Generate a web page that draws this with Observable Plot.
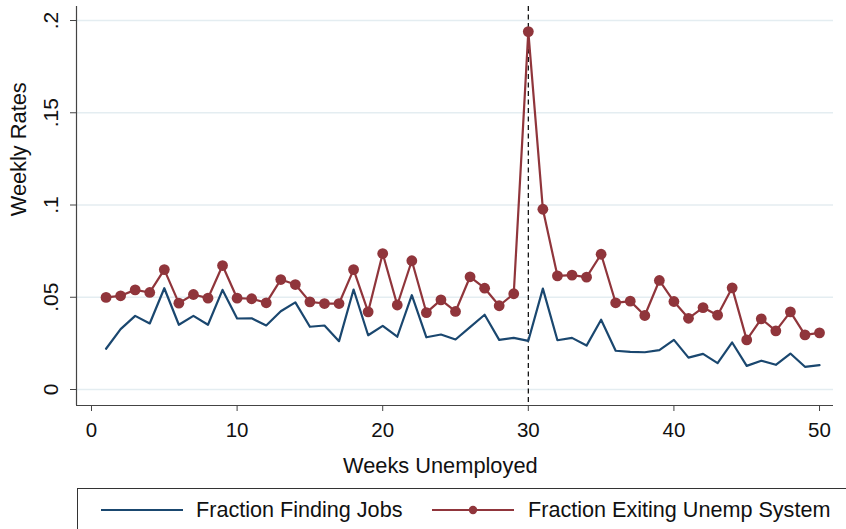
<!DOCTYPE html>
<html>
<head>
<meta charset="utf-8">
<script src="https://cdn.jsdelivr.net/npm/d3@7"></script>
<script src="https://cdn.jsdelivr.net/npm/@observablehq/plot@0.6"></script>
<style>
  html, body { margin: 0; padding: 0; background: #fff; overflow: hidden; }
  #wrap { position: relative; width: 846px; height: 529px; overflow: hidden; font-family: "Liberation Sans", Arial, sans-serif; }
  #legend { position: absolute; left: 77px; top: 488px; width: 800px; height: 60px; border: 1px solid #333; box-sizing: border-box; }
  .item { position: absolute; top: 0; height: 42px; display: flex; align-items: center; font-size: 21.6px; color: #111; }
</style>
</head>
<body>
<div id="wrap"><div id="chart"></div><div id="legend"></div></div>
<script>
const weeks = [1,2,3,4,5,6,7,8,9,10,11,12,13,14,15,16,17,18,19,20,21,22,23,24,25,26,27,28,29,30,31,32,33,34,35,36,37,38,39,40,41,42,43,44,45,46,47,48,49,50];
const findJobs = [0.0221,0.0327,0.0399,0.0358,0.0549,0.0351,0.0399,0.0351,0.0540,0.0385,
                  0.0386,0.0347,0.0424,0.0472,0.0340,0.0347,0.0262,0.0542,0.0294,0.0345,
                  0.0286,0.0511,0.0283,0.0298,0.0271,0.0338,0.0405,0.0269,0.0280,0.0264,
                  0.0547,0.0267,0.0280,0.0238,0.0378,0.0210,0.0204,0.0202,0.0213,0.0269,
                  0.0173,0.0193,0.0143,0.0255,0.0128,0.0156,0.0134,0.0195,0.0123,0.0132];
const exitSystem = [0.0499,0.0508,0.0540,0.0526,0.0650,0.0468,0.0515,0.0495,0.0672,0.0495,
                    0.0492,0.0470,0.0596,0.0569,0.0475,0.0466,0.0466,0.0650,0.0421,0.0737,
                    0.0458,0.0698,0.0417,0.0486,0.0423,0.0611,0.0549,0.0454,0.0519,0.1940,
                    0.0977,0.0616,0.0620,0.0609,0.0733,0.0470,0.0479,0.0401,0.0591,0.0477,
                    0.0386,0.0444,0.0403,0.0551,0.0269,0.0383,0.0318,0.0421,0.0296,0.0307];
const cutoffWeek = [30];
const xTicks = [0,10,20,30,40,50];
const yTicks = [0,0.05,0.1,0.15,0.2];
const yTickLabels = ["0",".05",".1",".15",".2"];
const seriesNames = ["Fraction Finding Jobs","Fraction Exiting Unemp System"];
const xTitle = "Weeks Unemployed";
const yTitle = "Weekly Rates";

const navy = "#1a476f", maroon = "#90353b";
const jobsData = weeks.map((w,i) => ({week: w, rate: findJobs[i]}));
const exitData = weeks.map((w,i) => ({week: w, rate: exitSystem[i]}));
const yTickData = yTicks.map((v,i) => ({v, label: yTickLabels[i]}));

const xMin = -1.03, xMax = 50.96, yMin = -0.00867, yMax = 0.2076;
const font = "'Liberation Sans', Arial, sans-serif";

const chart = Plot.plot({
  width: 846, height: 488,
  marginLeft: 76, marginRight: 13, marginTop: 6, marginBottom: 83,
  style: {fontFamily: font, background: "#fff", overflow: "visible"},
  x: {domain: [xMin, xMax], axis: null},
  y: {domain: [yMin, yMax], axis: null},
  marks: [
    Plot.ruleY(yTicks, {stroke: "#e4edf1", strokeWidth: 1.6}),
    Plot.ruleX([xMin], {stroke: "#444", strokeWidth: 1.2}),
    Plot.ruleY([yMin], {stroke: "#444", strokeWidth: 1.2}),
    Plot.axisY({ticks: yTicks, tickSize: 6, tickFormat: () => "", stroke: "#444", label: null}),
    Plot.axisX({ticks: xTicks, tickSize: 6, tickFormat: () => "", stroke: "#444", label: null}),
    Plot.text(yTickData, {x: xMin, y: "v", text: "label", rotate: -90, dx: -25, fontSize: 21, fill: "#111", textAnchor: "middle", lineAnchor: "middle"}),
    Plot.text(xTicks, {x: d => d, frameAnchor: "bottom", dy: 25, text: d => String(d), fontSize: 20.5, fill: "#111", lineAnchor: "middle"}),
    Plot.text([xTitle], {frameAnchor: "bottom", dy: 61, dx: -14.7, fontSize: 21.8, fill: "#111", lineAnchor: "middle"}),
    Plot.text([yTitle], {frameAnchor: "left", dx: -57.5, dy: 10.3, rotate: -90, fontSize: 21.8, fill: "#111", lineAnchor: "middle"}),
    Plot.ruleX(cutoffWeek, {stroke: "#000", strokeWidth: 1.2, strokeDasharray: "5,3.5"}),
    Plot.line(jobsData, {x: "week", y: "rate", stroke: navy, strokeWidth: 2.2}),
    Plot.line(exitData, {x: "week", y: "rate", stroke: maroon, strokeWidth: 2.2}),
    Plot.dot(exitData, {x: "week", y: "rate", fill: maroon, r: 5.4})
  ]
});
document.getElementById("chart").appendChild(chart);

// legend
const legend = document.getElementById("legend");
const ns = "http://www.w3.org/2000/svg";
function swatch(color, withDot) {
  const s = document.createElementNS(ns, "svg");
  s.setAttribute("width", 82); s.setAttribute("height", 12);
  const l = document.createElementNS(ns, "line");
  l.setAttribute("x1", 0); l.setAttribute("x2", 82); l.setAttribute("y1", 6); l.setAttribute("y2", 6);
  l.setAttribute("stroke", color); l.setAttribute("stroke-width", 2);
  s.appendChild(l);
  if (withDot) {
    const c = document.createElementNS(ns, "circle");
    c.setAttribute("cx", 41); c.setAttribute("cy", 6); c.setAttribute("r", 4.2); c.setAttribute("fill", color);
    s.appendChild(c);
  }
  return s;
}
const positions = [23, 354];
seriesNames.forEach((name, i) => {
  const it = document.createElement("div");
  it.className = "item";
  it.style.left = positions[i] + "px";
  const sw = swatch(i === 0 ? navy : maroon, i === 1);
  sw.style.marginRight = (i === 0 ? 13 : 14) + "px";
  it.appendChild(sw);
  const t = document.createElement("span");
  t.textContent = name;
  it.appendChild(t);
  legend.appendChild(it);
});
</script>
</body>
</html>
